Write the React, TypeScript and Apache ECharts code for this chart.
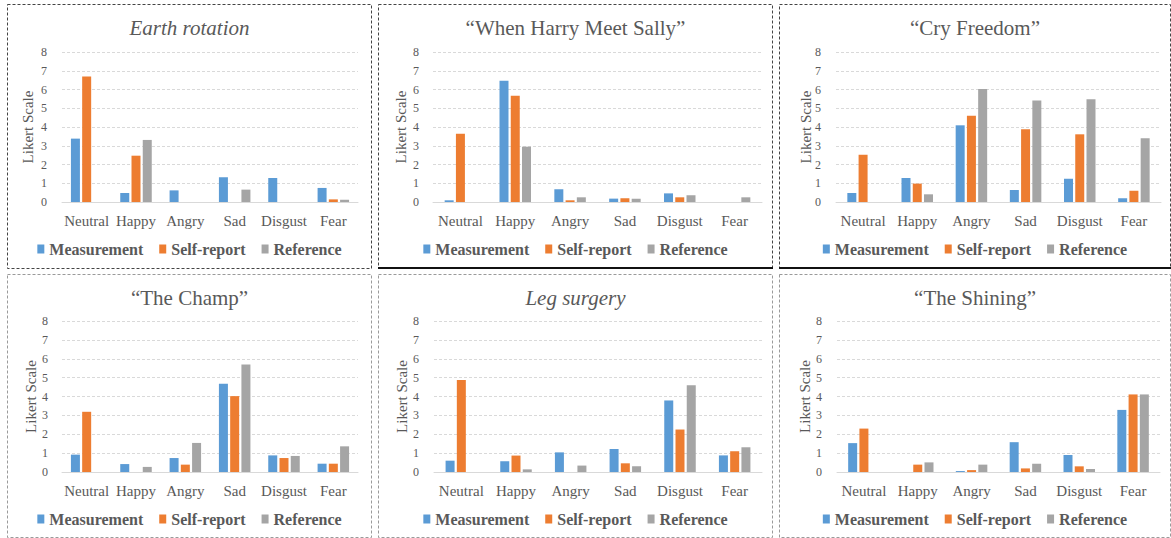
import React, { useEffect, useRef } from "react";
import * as echarts from "echarts";

const categories = ["Neutral", "Happy", "Angry", "Sad", "Disgust", "Fear"];
const seriesNames = ["Measurement", "Self-report", "Reference"];
const yTicks = [0, 1, 2, 3, 4, 5, 6, 7, 8];

const earthMeasurement = [3.38, 0.48, 0.62, 1.32, 1.28, 0.75];
const earthSelf = [6.7, 2.47, 0, 0, 0, 0.14];
const earthRef = [0, 3.31, 0, 0.66, 0, 0.12];

const harryMeasurement = [0.09, 6.47, 0.68, 0.18, 0.46, 0];
const harrySelf = [3.64, 5.67, 0.09, 0.2, 0.25, 0];
const harryRef = [0, 2.95, 0.25, 0.18, 0.36, 0.25];

const cryMeasurement = [0.48, 1.28, 4.09, 0.64, 1.24, 0.2];
const crySelf = [2.52, 0.98, 4.6, 3.88, 3.61, 0.6];
const cryRef = [0, 0.41, 6.03, 5.42, 5.48, 3.4];

const champMeasurement = [0.92, 0.42, 0.74, 4.67, 0.88, 0.44];
const champSelf = [3.19, 0, 0.39, 4.02, 0.74, 0.44];
const champRef = [0, 0.27, 1.54, 5.7, 0.85, 1.36];

const legMeasurement = [0.6, 0.57, 1.04, 1.22, 3.79, 0.88];
const legSelf = [4.87, 0.87, 0, 0.46, 2.25, 1.1];
const legRef = [0, 0.14, 0.34, 0.3, 4.6, 1.31];

const shiningMeasurement = [1.53, 0, 0.05, 1.58, 0.9, 3.29];
const shiningSelf = [2.3, 0.39, 0.1, 0.19, 0.3, 4.11];
const shiningRef = [0, 0.51, 0.39, 0.44, 0.16, 4.11];

const titles = [
  "Earth rotation",
  "\u201CWhen Harry Meet Sally\u201D",
  "\u201CCry Freedom\u201D",
  "\u201CThe Champ\u201D",
  "Leg surgery",
  "\u201CThe Shining\u201D",
];
const italicTitles = [true, false, false, false, true, false];
const panelData = [
  [earthMeasurement, earthSelf, earthRef],
  [harryMeasurement, harrySelf, harryRef],
  [cryMeasurement, crySelf, cryRef],
  [champMeasurement, champSelf, champRef],
  [legMeasurement, legSelf, legRef],
  [shiningMeasurement, shiningSelf, shiningRef],
];

const colors = ["#5B9BD5", "#ED7D31", "#A5A5A5"];
const FONT = "'Liberation Serif', 'Times New Roman', serif";
const TEXT = "#595959";

type Panel = {
  x: number; y: number; w: number; h: number;
  gl: number; gr: number; gt: number; gb: number;
  labelMargin: number; nameGap: number; top: boolean; solidBottom: boolean;
};

const panels: Panel[] = [
  { x: 7, y: 4, w: 365, h: 265, gl: 55, gr: 14, gt: 48, gb: 67, labelMargin: 15, nameGap: 27, top: true, solidBottom: false },
  { x: 378, y: 4, w: 395, h: 265, gl: 55, gr: 11, gt: 48, gb: 67, labelMargin: 14, nameGap: 25, top: true, solidBottom: true },
  { x: 779, y: 4, w: 392, h: 265, gl: 57, gr: 10, gt: 48, gb: 67, labelMargin: 15, nameGap: 23, top: true, solidBottom: true },
  { x: 7, y: 274, w: 365, h: 264, gl: 55, gr: 14, gt: 47, gb: 66, labelMargin: 14, nameGap: 24, top: false, solidBottom: false },
  { x: 378, y: 274, w: 395, h: 264, gl: 56, gr: 11, gt: 47, gb: 66, labelMargin: 15, nameGap: 25, top: false, solidBottom: false },
  { x: 779, y: 274, w: 392, h: 264, gl: 58, gr: 11, gt: 47, gb: 66, labelMargin: 15, nameGap: 25, top: false, solidBottom: false },
];

function ChartPanel({ idx }: { idx: number }) {
  const ref = useRef<HTMLDivElement>(null);
  const p = panels[idx];
  useEffect(() => {
    if (!ref.current) return;
    const chart = echarts.init(ref.current, undefined, { renderer: "svg" });
    const borderColor = p.top ? "#444" : "#9a9a9a";
    const graphics: any[] = [
      {
        type: "rect",
        shape: { x: 0.5, y: 0.5, width: p.w - 1, height: p.h - 1 },
        style: { fill: "none", stroke: borderColor, lineWidth: 1, lineDash: [3, 2] },
        silent: true,
      },
    ];
    if (p.solidBottom) {
      graphics.push({
        type: "line",
        shape: { x1: 0, y1: p.h - 1, x2: p.w, y2: p.h - 1 },
        style: { stroke: "#111", lineWidth: 2 },
        silent: true,
      });
    }
    chart.setOption({
      animation: false,
      backgroundColor: "#fff",
      color: colors,
      title: {
        text: titles[idx],
        left: "center",
        top: 8,
        textStyle: {
          fontFamily: FONT,
          fontSize: 21,
          fontWeight: "normal",
          fontStyle: italicTitles[idx] ? "italic" : "normal",
          color: TEXT,
        },
      },
      legend: {
        data: seriesNames,
        left: "center",
        top: 232,
        icon: "rect",
        itemWidth: 7,
        itemHeight: 9,
        itemGap: 16,
        textStyle: { fontFamily: FONT, fontSize: 16, fontWeight: "bold", color: TEXT },
      },
      grid: { left: p.gl, right: p.gr, top: p.gt, bottom: p.gb, outerBoundsMode: "none", containLabel: false },
      xAxis: {
        type: "category",
        data: categories,
        axisLine: { lineStyle: { color: "#D9D9D9" } },
        axisTick: { show: false },
        axisLabel: { interval: 0, margin: 11, fontFamily: FONT, fontSize: 15, color: TEXT },
      },
      yAxis: {
        type: "value",
        min: yTicks[0],
        max: yTicks[yTicks.length - 1],
        interval: 1,
        name: "Likert Scale",
        nameLocation: "middle",
        nameGap: p.nameGap,
        nameMoveOverlap: false,
        nameTextStyle: { fontFamily: FONT, fontSize: 15, color: TEXT },
        axisLine: { show: false },
        axisTick: { show: false },
        axisLabel: { margin: p.labelMargin, fontFamily: FONT, fontSize: 12, color: TEXT },
        splitLine: { lineStyle: { color: "#D9D9D9", type: [3, 2] } },
      },
      series: seriesNames.map((name, i) => ({
        name,
        type: "bar",
        data: panelData[idx][i],
        barWidth: 9,
        barGap: "25%",
        itemStyle: { color: colors[i] },
      })),
      graphic: graphics,
    });
    return () => chart.dispose();
  }, [idx]);
  return (
    <div
      ref={ref}
      style={{ position: "absolute", left: p.x, top: p.y, width: p.w, height: p.h }}
    />
  );
}

export default function App() {
  useEffect(() => {
    document.body.style.margin = "0";
  }, []);
  return (
    <div style={{ position: "relative", width: 1171, height: 538, background: "#fff", overflow: "hidden" }}>
      {panels.map((_, i) => (
        <ChartPanel key={i} idx={i} />
      ))}
    </div>
  );
}
